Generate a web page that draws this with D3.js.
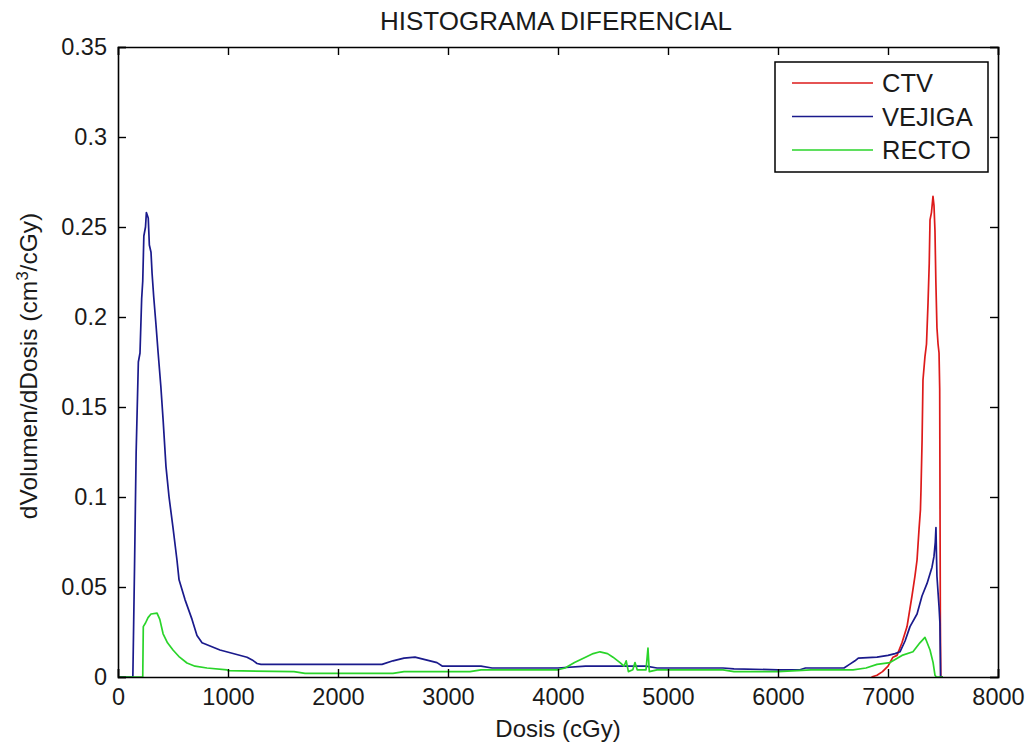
<!DOCTYPE html>
<html><head><meta charset="utf-8">
<script src="https://cdn.jsdelivr.net/npm/d3@7"></script>
<style>html,body{margin:0;padding:0;background:#fff;}svg{display:block;font-family:"Liberation Sans",Arial,sans-serif;}</style>
</head><body><svg id="c" width="1028" height="746"></svg>
<script>
const title = "HISTOGRAMA DIFERENCIAL";
const xLabel = "Dosis (cGy)";
const xTicks = [0,1000,2000,3000,4000,5000,6000,7000,8000];
const yTicks = [0,0.05,0.1,0.15,0.2,0.25,0.3,0.35];
const seriesNames = ["CTV","VEJIGA","RECTO"];
const seriesColors = ["#dd1a1a","#1a1a8c","#2ad42a"];

const ctvDose = [6850,6900,6950,7000,7045,7082,7127,7173,7218,7245,7264,7282,7295,7300,7310,7318,7336,7350,7364,7375,7382,7395,7409,7418,7427,7435,7445,7455,7464,7470,7476,7480,7500];
const ctvVal  = [0,0.001,0.003,0.006,0.011,0.012,0.019,0.028,0.045,0.056,0.065,0.082,0.093,0.104,0.132,0.165,0.178,0.185,0.208,0.23,0.254,0.258,0.267,0.262,0.248,0.22,0.194,0.185,0.18,0.16,0.03,0,0];

const vejDose = [0,135,150,165,185,200,215,225,235,250,258,275,285,300,310,325,345,365,390,410,436,464,500,536,555,609,673,718,764,927,1173,1220,1264,1300,2400,2500,2600,2700,2800,2900,2950,3300,3400,4000,4250,4800,4900,5500,5600,6000,6200,6250,6600,6650,6700,6730,6900,7000,7064,7109,7155,7200,7264,7309,7355,7400,7418,7430,7436,7440,7445,7464,7472,7478,7500];
const vejVal  = [0,0,0.06,0.125,0.175,0.18,0.21,0.22,0.245,0.25,0.258,0.255,0.24,0.236,0.224,0.211,0.196,0.18,0.161,0.143,0.117,0.1,0.083,0.065,0.054,0.043,0.032,0.023,0.019,0.015,0.011,0.0095,0.0075,0.007,0.007,0.009,0.0105,0.011,0.0095,0.008,0.006,0.006,0.005,0.005,0.006,0.006,0.005,0.005,0.0045,0.004,0.004,0.005,0.005,0.007,0.009,0.0105,0.011,0.012,0.013,0.014,0.02,0.028,0.035,0.045,0.052,0.061,0.067,0.075,0.083,0.07,0.056,0.039,0.03,0,0];

const recDose = [0,225,230,250,273,300,355,380,410,450,500,560,627,700,809,991,1000,1600,1700,2500,2600,3200,3300,4000,4064,4150,4250,4320,4382,4450,4500,4564,4600,4620,4640,4680,4700,4720,4800,4818,4830,4900,5500,5600,6000,6300,6682,6800,6900,7018,7127,7227,7290,7336,7350,7382,7410,7427,7440,7500];
const recVal  = [0,0,0.028,0.03,0.033,0.035,0.0355,0.032,0.024,0.019,0.015,0.011,0.0078,0.006,0.005,0.004,0.0035,0.003,0.002,0.002,0.003,0.003,0.004,0.004,0.005,0.008,0.011,0.013,0.014,0.013,0.011,0.008,0.006,0.009,0.003,0.004,0.008,0.004,0.004,0.016,0.003,0.004,0.004,0.003,0.003,0.004,0.004,0.005,0.007,0.008,0.012,0.014,0.019,0.022,0.02,0.015,0.008,0.001,0,0];

const series = [
  {name: seriesNames[0], color: seriesColors[0], pts: d3.zip(ctvDose, ctvVal)},
  {name: seriesNames[1], color: seriesColors[1], pts: d3.zip(vejDose, vejVal)},
  {name: seriesNames[2], color: seriesColors[2], pts: d3.zip(recDose, recVal)}
];

const svg = d3.select("#c");
const L = 118, R = 998, T = 47, B = 677;
const x = d3.scaleLinear().domain([0,8000]).range([L,R]);
const y = d3.scaleLinear().domain([0,0.35]).range([B,T]);
const textColor = "#1a1a1a";

const line = d3.line().x(d=>x(d[0])).y(d=>y(d[1]));
const plot = svg.append("g");
plot.append("clipPath").attr("id","clip").append("rect").attr("x",L).attr("y",T).attr("width",R-L).attr("height",B-T);
series.forEach(s=>{
  plot.append("path").datum(s.pts).attr("d",line).attr("fill","none")
    .attr("stroke",s.color).attr("stroke-width",1.7).attr("stroke-linejoin","round")
    .attr("clip-path","url(#clip)");
});

const tickLen = 8;
const fmt = d => d===0 ? "0" : String(+d.toFixed(2));
const xb = d3.axisBottom(x).tickValues(xTicks).tickSize(-tickLen).tickPadding(11).tickFormat(d3.format("d"));
const xt = d3.axisTop(x).tickValues(xTicks).tickSize(-tickLen).tickFormat("");
const yl = d3.axisLeft(y).tickValues(yTicks).tickSize(-tickLen).tickPadding(11).tickFormat(fmt);
const yr = d3.axisRight(y).tickValues(yTicks).tickSize(-tickLen).tickFormat("");
function styleAxis(g){
  g.selectAll("path.domain").attr("stroke","#000").attr("stroke-width",1.6);
  g.selectAll(".tick line").attr("stroke","#000").attr("stroke-width",1.4);
  g.selectAll(".tick text").attr("fill",textColor).style("font-size","23.5px").style("font-family","'Liberation Sans',Arial,sans-serif");
}
svg.append("g").attr("transform",`translate(0,${B})`).call(xb).call(styleAxis);
svg.append("g").attr("transform",`translate(0,${T})`).call(xt).call(styleAxis);
svg.append("g").attr("transform",`translate(${L},0)`).call(yl).call(styleAxis);
svg.append("g").attr("transform",`translate(${R},0)`).call(yr).call(styleAxis);

svg.append("text").attr("x",(L+R)/2-2).attr("y",30).attr("text-anchor","middle")
  .style("font-size","26px").attr("fill",textColor).text(title);
svg.append("text").attr("x",(L+R)/2).attr("y",737).attr("text-anchor","middle")
  .style("font-size","24px").attr("fill",textColor).text(xLabel);
const yt = svg.append("text").attr("transform",`translate(37,${366}) rotate(-90)`)
  .attr("text-anchor","middle").style("font-size","24.5px").attr("fill",textColor);
yt.append("tspan").text("dVolumen/dDosis (cm");
yt.append("tspan").attr("dy",-9).style("font-size","17px").text("3");
yt.append("tspan").attr("dy",9).text("/cGy)");

const lg = svg.append("g");
lg.append("rect").attr("x",775).attr("y",62).attr("width",213).attr("height",110)
  .attr("fill","#fff").attr("stroke","#000").attr("stroke-width",1.5);
series.forEach((s,i)=>{
  const yy = 83 + i*33.5;
  lg.append("line").attr("x1",792).attr("x2",873).attr("y1",yy).attr("y2",yy)
    .attr("stroke",s.color).attr("stroke-width",1.6);
  lg.append("text").attr("x",882).attr("y",yy+9).style("font-size","25.5px").attr("fill",textColor).text(s.name);
});
</script></body></html>
